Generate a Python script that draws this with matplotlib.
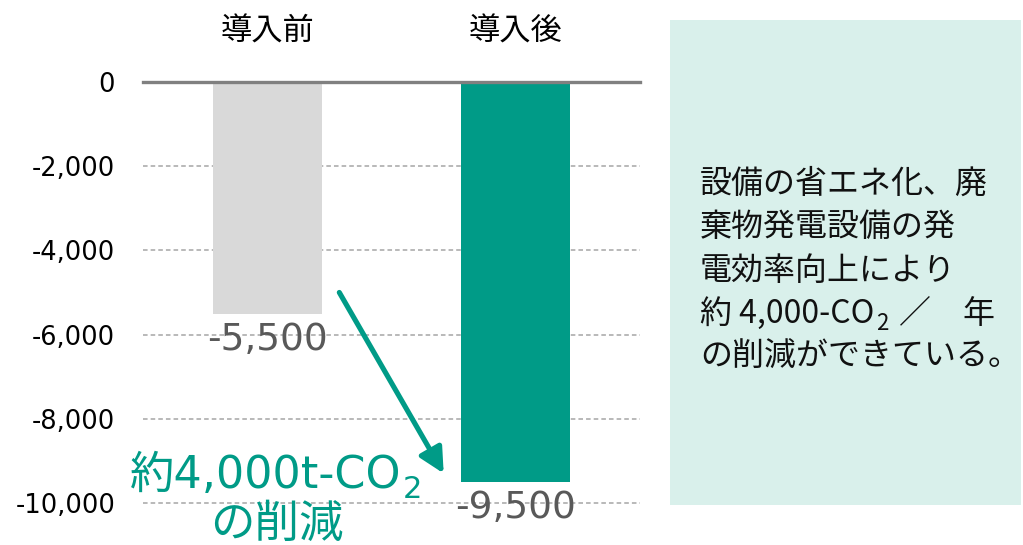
import matplotlib
matplotlib.use("Agg")
import matplotlib.pyplot as plt
from matplotlib.patches import Rectangle
from matplotlib.ticker import FuncFormatter

# ---------------- data ----------------
categories = ["導入前", "導入後"]
values = [-5500, -9500]
value_labels = ["-5,500", "-9,500"]
yticks = [0, -2000, -4000, -6000, -8000, -10000]
annotation_line1 = "約4,000t-CO"
annotation_sub = "2"
annotation_line2 = "の削減"
box_lines = ["設備の省エネ化、廃", "棄物発電設備の発", "電効率向上により",
             "約 4,000-CO", "の削減ができている。"]
box_sub = "2"
box_tail = "／　年"
arrow_start = (0.29, -5000)
arrow_end = (0.71, -9300)

# ---------------- style ----------------
TEAL = "#009B87"
GRAY_BAR = "#D9D9D9"
LABEL_GRAY = "#595959"
GRID_GRAY = "#A6A6A6"
ZERO_GRAY = "#808080"
BOX_COLOR = "#D9F0EB"
TXT = "#111111"
JP = ["Noto Sans CJK JP", "DejaVu Sans"]
LAT = ["DejaVu Sans", "Noto Sans CJK JP"]

W, H = 1023, 545
def fx(p): return p / W
def fy(p): return 1 - p / H

fig = plt.figure(figsize=(W / 100, H / 100), dpi=100)
fig.patch.set_facecolor("white")

# right-hand box (behind everything)
box = Rectangle((fx(670), fy(505)), fx(1021) - fx(670), (505 - 20) / H,
                transform=fig.transFigure, facecolor=BOX_COLOR,
                edgecolor="none", zorder=-10)
fig.add_artist(box)

ax = fig.add_axes([fx(143), 0, fx(640) - fx(143), (H - 82) / H])
ax.set_xlim(-0.5, 1.5)
ax.set_ylim(-11000, 0)
ax.patch.set_alpha(0)

x = list(range(len(categories)))
ax.bar(x, values, width=0.44, color=[GRAY_BAR, TEAL], zorder=3)

for s in ax.spines.values():
    s.set_visible(False)

ax.set_yticks(yticks)
ax.yaxis.set_major_formatter(FuncFormatter(lambda v, p: f"{v:,.0f}"))
ax.tick_params(axis="y", length=0, pad=20, labelsize=18.5, labelcolor="black")
for lab in ax.get_yticklabels():
    lab.set_family(LAT)
ax.grid(axis="y", color=GRID_GRAY, linestyle=(0, (3, 2)), linewidth=1.1, zorder=1)
ax.grid(axis="x", visible=False)
ax.axhline(0, color=ZERO_GRAY, linewidth=2.4, zorder=4, clip_on=False)

ax.xaxis.tick_top()
ax.set_xticks(x)
ax.set_xticklabels(categories, fontsize=22.5, family=JP, color="black")
ax.tick_params(axis="x", length=0, pad=24.5)

for xi, v, lab in zip(x, values, value_labels):
    ax.annotate(lab, xy=(xi, v), xytext=(0, -6), textcoords="offset points",
                ha="center", va="top", fontsize=27, color=LABEL_GRAY,
                family=LAT, zorder=5, annotation_clip=False, clip_on=False)

ax.annotate("", xy=arrow_end, xytext=arrow_start,
            arrowprops=dict(arrowstyle="-|>,head_length=0.75,head_width=0.38",
                            mutation_scale=20, color=TEAL, lw=3.7,
                            shrinkA=0, shrinkB=0), zorder=6)

# green annotation
t1 = fig.text(fx(266), fy(488), annotation_line1, ha="center", va="baseline",
              fontsize=32, color=TEAL, family=LAT, zorder=7)
fig.add_artist(matplotlib.text.Annotation(
    annotation_sub, xy=(1, H - 498), xycoords=(t1, "figure pixels"),
    xytext=(0.5, 0), textcoords="offset points", ha="left", va="baseline",
    fontsize=22, color=TEAL, family=LAT, annotation_clip=False, zorder=7))
fig.text(fx(277), fy(537), annotation_line2, ha="center", va="baseline",
         fontsize=32, color=TEAL, family=JP, zorder=7)

# box text
baselines = [193, 236, 280, 323, 366]
box_texts = []
for line, by in zip(box_lines, baselines):
    box_texts.append(fig.text(fx(700), fy(by), line, ha="left", va="baseline",
                              fontsize=23, color=TXT, family=JP, zorder=8))
t4 = box_texts[3]
sub = matplotlib.text.Annotation(
    box_sub, xy=(1, H - 330), xycoords=(t4, "figure pixels"),
    xytext=(1, 0), textcoords="offset points", ha="left", va="baseline",
    fontsize=16, color=TXT, family=JP, annotation_clip=False, zorder=8)
fig.add_artist(sub)
fig.add_artist(matplotlib.text.Annotation(
    box_tail, xy=(1, H - baselines[3]), xycoords=(sub, "figure pixels"),
    xytext=(8, 0), textcoords="offset points", ha="left", va="baseline",
    fontsize=23, color=TXT, family=JP, annotation_clip=False, zorder=8))

fig.savefig("out.png", dpi=100, facecolor="white")
